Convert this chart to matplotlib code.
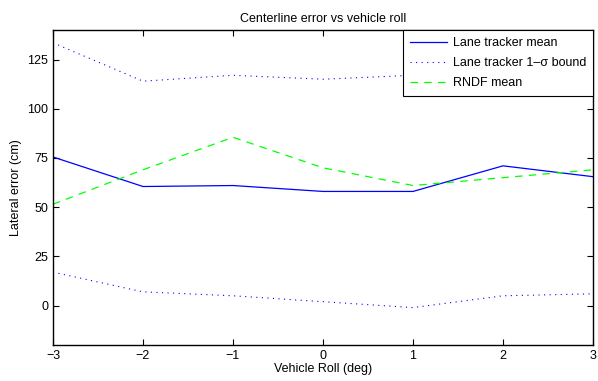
import matplotlib
matplotlib.use("Agg")
import matplotlib.pyplot as plt

roll = [-3, -2, -1, 0, 1, 2, 3]
lane_mean = [75.5, 60.5, 61, 58, 58, 71, 65.5]
lane_upper = [133.5, 114, 117, 115, 117, 137, 125]
lane_lower = [17, 7, 5, 2, -1, 5, 6]
rndf_mean = [51.5, 69, 85.5, 70, 61, 65, 69]

plt.rcParams['font.family'] = ['Liberation Sans', 'DejaVu Sans']
plt.rcParams['font.size'] = 9

fig = plt.figure(figsize=(5.98, 3.81), dpi=100)
ax = fig.add_axes([53 / 598, 1 - 345 / 381, 540 / 598, 315 / 381])

ax.plot(roll, lane_mean, color='blue', lw=0.9, label='Lane tracker mean')
ax.plot(roll, lane_upper, color='blue', lw=0.8, ls=(0, (1, 4)), label='Lane tracker 1\u2013\u03c3 bound')
ax.plot(roll, lane_lower, color='blue', lw=0.8, ls=(0, (1, 4)))
ax.plot(roll, rndf_mean, color='#00ff00', lw=0.9, ls=(0, (6, 5)), label='RNDF mean')

ax.set_xlim(-3, 3)
ax.set_ylim(-20, 140)
ax.set_yticks([0, 25, 50, 75, 100, 125])
ax.set_xticks(roll)
ax.set_xticklabels(['\u22123', '\u22122', '\u22121', '0', '1', '2', '3'])
ax.tick_params(direction='in', top=True, right=True, length=4, width=0.8, labelsize=9)
for s in ax.spines.values():
    s.set_linewidth(1.0)

ax.set_title('Centerline error vs vehicle roll', fontsize=9, pad=6)
ax.set_xlabel('Vehicle Roll (deg)', fontsize=9, labelpad=1)
ax.set_ylabel('Lateral error (cm)', fontsize=9, labelpad=4)

leg = ax.legend(loc='upper right', fontsize=9, fancybox=False, framealpha=1,
                borderaxespad=0, handlelength=3.0, handletextpad=0.45,
                edgecolor='black', borderpad=0.55, labelspacing=0.65)
leg.get_frame().set_linewidth(0.8)

fig.savefig('out.png', dpi=100)
